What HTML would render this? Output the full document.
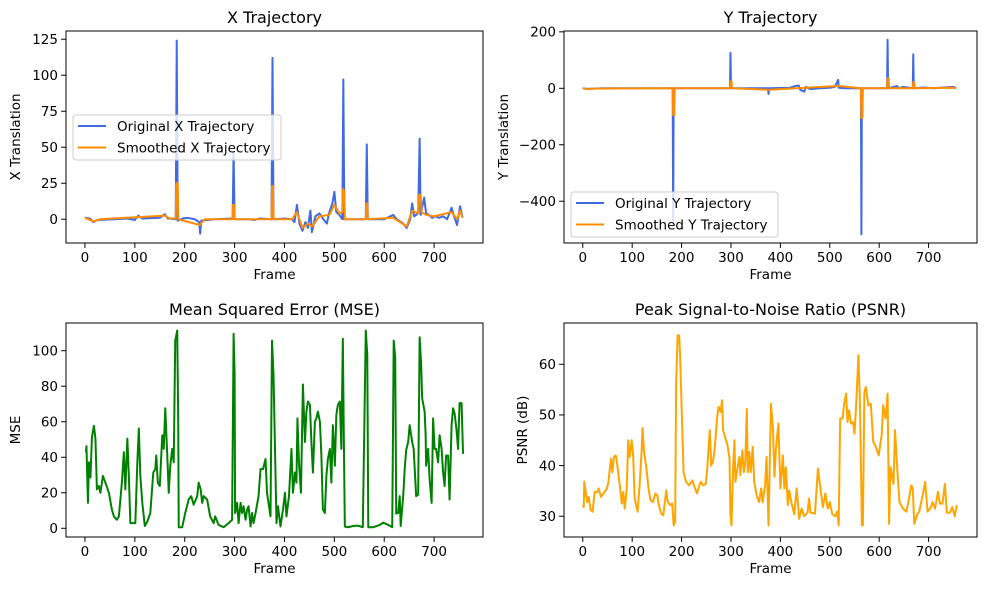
<!DOCTYPE html>
<html><head><meta charset="utf-8">
<style>
html,body{margin:0;padding:0;background:#fff;}
svg{display:block;font-family:"DejaVu Sans","Liberation Sans",sans-serif;}
</style></head>
<body>
<svg id="fig" width="990" height="590" viewBox="0 0 990 590" xmlns="http://www.w3.org/2000/svg">
<rect x="0" y="0" width="990" height="590" fill="#fff"/>
</svg>
<script>
// ---------- X trajectory ----------
const xOrigFrames = [0,10,17,25,60,85,100,107,115,150,160,166,182,184,186,196,205,220,229,231,233,260,296,298,300,330,340,350,374,376,378,400,415,420,425,430,436,442,447,452,455,462,470,478,485,490,496,500,504,510,516,518,520,540,563,565,567,600,618,625,638,645,652,656,660,668,671,673,680,684,690,696,702,710,718,726,735,740,746,752,757];
const xOrigVals = [1,0.5,-2,-0.5,0,0.5,-0.5,2.5,0.5,1,3.5,0.5,0,124,-1,0.5,1,0,-2,-10,-1,0,0.5,47,0,0,-0.5,0.5,0,112,0,0.5,0,-2,10,-3,-8,-2,-6,6,-9,2,4,0,-3,5,11,19,5,3,0,97,0,0,0,52,0,0,3,0,-3,-6,0,11,2,4,56,3,15,4,3,1,2,1,2,0,8,2,-4,9,1];
const xSmoothFrames = [0,17,30,107,160,170,182,183,186,187,230,240,296,297,299,300,374,375,377,378,415,425,436,447,455,470,490,500,510,516,517,520,521,563,564,566,567,618,645,656,668,670,673,675,684,700,735,746,752,757];
const xSmoothVals = [1,-1.5,0,1.5,2.5,0.5,0.5,25,25,0,-4,0,0,10,10,0,0,23,23,0,0,5,-6,-3,-5,2,3,10,4,5,21,19,0,0,11,11,0,1,-5,6,4,17,17,5,3,2,5,0,6,1];
const xTicks = [0,25,50,75,100,125];

// ---------- Y trajectory ----------
const yOrigFrames = [0,10,20,40,100,182,183,184,200,298,299,300,375,376,377,420,430,437,440,448,452,460,480,500,510,517,518,530,563,564,565,616,617,618,636,640,648,668,669,670,690,710,730,750,756];
const yOrigVals = [0,-2,-1,0,0,0,-470,0,0,0,125,0,0,-20,0,2,8,10,-5,-12,5,-3,0,2,5,30,2,0,0,-517,0,0,172,0,8,0,5,0,120,0,3,0,3,5,1];
const ySmoothFrames = [0,10,20,182,183,185,186,298,299,301,302,376,517,563,564,566,567,616,617,619,620,668,669,671,672,750,756];
const ySmoothVals = [0,-3,-1,0,-95,-95,0,0,25,25,0,-5,8,0,-105,-105,0,0,35,35,0,0,22,22,0,2,0];
const yTicks = [200,0,-200,-400];

// ---------- MSE ----------
const mseFrames = [2,3,6,8,11,14,18,21,24,28,31,36,41,48,54,58,64,68,74,78,81,85,88,91,97,101,105,108,111,115,120,125,131,137,141,143,146,150,155,158,161,165,168,171,175,178,181,185,187,188,195,201,208,213,218,225,228,232,235,238,245,251,258,261,268,278,288,295,298,300,301,305,308,312,315,318,322,325,328,332,335,338,342,348,352,357,362,365,372,375,378,
384,387,392,397,401,404,409,414,417,421,424,426,429,433,437,441,444,447,451,454,457,461,464,467,471,474,477,481,484,487,491,494,497,501,504,507,511,514,517,519,521,527,538,547,557,563,566,568,578,591,598,608,616,619,622,624,628,631,633,638,641,644,648,651,656,659,664,668,671,674,676,681,683,684,688,691,695,698,701,704,708,711,715,718,721,724,728,731,735,738,741,745,748,751,755,758];
const mseVals = [42.9,46.3,14.3,37.1,28.6,51.4,57.7,50.5,21.9,23.8,20,29.5,25.7,20,10.5,6.7,4.8,6.7,25.7,42.9,21.9,50.5,29.5,2.9,2.9,2.9,37.1,56.2,29.5,14.3,1.3,3.8,8.6,31.4,33.3,41,25.7,23.8,52.4,44.7,67.6,41,20,35.2,44.7,37.1,105.7,111.4,60,0.6,0.6,8.6,16.2,18.1,13.3,18.1,25.7,21.9,14.3,18.1,16.2,6.7,2.9,6.7,1.9,0.6,2.9,4.8,109.5,86.7,8.6,14.3,2.9,14.3,8.6,12.4,4.8,10.5,12.4,1,8.6,2.9,8.6,18.1,33.3,33.3,39,20,6.7,105.7,86.7,
2.9,12.4,1,10.5,20,6.7,18.1,44.7,20,31.4,25.7,61.9,37.1,20,81,48.6,65.7,71.4,69.5,48.6,31.4,60,61.9,65.7,60,41,10.5,8.6,29.5,39,44.7,25.7,58.1,35.2,63.8,69.5,71.4,44.7,106.7,50.5,1,0.6,1.3,1.5,0.6,111.4,97.6,0.6,0.6,1.9,3.2,1.9,0.6,105.7,96.2,8.3,8.6,18.1,1.3,18.1,33.3,44.1,48.6,58.1,48.6,44.7,18.1,19,107.6,92.4,73.3,65.7,52.4,35.2,44.7,27.6,14.3,61.9,44.7,44.7,37.1,52.4,44.7,31.4,23.8,41,41,16.2,58.1,67.6,64.8,55.2,44.7,70.5,70.5,41.9];
const mseTicks = [0,20,40,60,80,100];

// ---------- PSNR ----------
const psnrFrames = [0,2,3,9,12,16,20,24,29,32,37,42,49,52,57,60,63,67,70,75,79,82,85,89,92,95,99,102,105,111,115,119,121,124,129,133,137,142,147,151,154,159,163,169,172,177,181,184,187,189,192,195,197,201,204,209,215,222,225,231,235,239,244,249,252,257,260,264,267,272,275,279,282,284,289,293,297,299,301,304,307,309,313,317,319,323,326,329,332,334,337,340,344,347,352,357,361,364,369,372,376,
381,385,388,391,396,400,405,408,411,415,418,422,428,433,438,443,448,455,458,461,470,476,481,486,491,496,500,505,511,515,518,521,526,529,533,536,539,543,547,550,553,558,561,565,567,570,573,578,583,588,593,599,605,608,613,617,620,623,629,632,637,641,648,655,659,665,668,671,677,681,685,688,693,698,705,708,713,719,723,728,733,737,743,748,753,757];
const psnrVals = [32.2,31.8,36.8,32.8,33.8,31.2,30.9,34.8,34.7,35.5,33.8,34.5,35.5,36.8,41.4,38.7,41.7,42,40,36.1,32.5,34.8,31.5,35.5,45,41.7,45,42,33.5,30.9,36.1,42.7,47.4,42.7,39.4,35.5,33.2,32.8,34.5,34.1,32.2,30.5,30.2,35.1,32.8,32.2,32.5,28.2,28.9,56.5,65.7,65.7,61.8,48.6,38.7,36.8,36.1,37.1,36.1,34.5,35.8,36.8,36.1,36.4,39.4,47,40,41,43.3,49.6,51.6,50.6,52.9,47,45.3,44,41.4,30.2,28.2,38.7,45,36.8,39.4,41.7,38.1,43,38.7,40.7,51.2,38.7,42.7,38.7,43.7,36.8,34.1,32.8,35.5,32.8,36.1,41.7,28.2,
52.2,47.3,37.8,43.3,48.3,35.5,42,35.5,39.7,32.2,35.1,32.8,30.4,35.5,29.5,31.5,30,30.7,33.5,30.7,30.5,39.4,35.5,31.8,34.5,31.5,32.8,30.4,30,30.9,28.2,49.3,49.3,52.2,54.2,48.6,50.9,48.3,48.6,46.3,51.2,61.8,52.6,28.2,28.2,54.5,55.5,51.9,52.2,44.7,43.7,42,46,51.9,49.3,54.2,28.5,39.7,36.4,47,38.7,32.8,31.5,30.9,32.8,36.1,35.5,28.5,30.4,30.9,32.8,34.1,36.8,30.9,31.8,32.8,31.5,34.8,32.5,32.5,36.4,30.7,30.7,31.8,30,32.2];
const psnrTicks = [30,40,50,60];

const frameTicks = [0,100,200,300,400,500,600,700];

const NS = "http://www.w3.org/2000/svg";
const fig = document.getElementById('fig');
function mk(tag, attrs, parent){
  const e = document.createElementNS(NS, tag);
  for (const k in attrs) e.setAttribute(k, attrs[k]);
  (parent||fig).appendChild(e);
  return e;
}
function txt(s, attrs, parent){ const e = mk('text', attrs, parent); e.textContent = s; return e; }

function axes(id, box, xlim, ylim, yTickVals, title, xlab, ylab, ylabX){
  const g = mk('g', {});
  
  
  const sx = v => box.l + (v - xlim[0]) / (xlim[1] - xlim[0]) * (box.r - box.l);
  const sy = v => box.b - (v - ylim[0]) / (ylim[1] - ylim[0]) * (box.b - box.t);
  const cp = mk('clipPath', {id: 'clip-' + id}, g);
  mk('rect', {x: box.l, y: box.t, width: box.r - box.l, height: box.b - box.t}, cp);
  // x ticks
  frameTicks.forEach(v => {
    const x = sx(v);
    const tk = mk('line', {x1: x, x2: x, y1: box.b, y2: box.b + 4.9, stroke: '#000', 'stroke-width': 1}, g);
    
    
    const tl = txt(String(v), {x: x, y: box.b + 19, 'font-size': 13.5, 'text-anchor': 'middle', fill: '#000'}, g);
    
    
  });
  yTickVals.forEach(v => {
    const y = sy(v);
    const tk = mk('line', {x1: box.l - 4.9, x2: box.l, y1: y, y2: y, stroke: '#000', 'stroke-width': 1}, g);
    
    
    const tl = txt(String(v).replace('-', '\u2212'), {x: box.l - 8, y: y + 4.8, 'font-size': 13.5, 'text-anchor': 'end', fill: '#000'}, g);
    
    
  });
  const tt = txt(title, {x: (box.l + box.r) / 2, y: box.t - 8, 'font-size': 16, 'text-anchor': 'middle', fill: '#000'}, g);
  
  
  const xl = txt(xlab, {x: (box.l + box.r) / 2, y: box.b + 36, 'font-size': 13.5, 'text-anchor': 'middle', fill: '#000'}, g);
  
  
  const cy = (box.t + box.b) / 2;
  const yl = txt(ylab, {x: ylabX, y: cy, 'font-size': 13.5, 'text-anchor': 'middle', fill: '#000', transform: 'rotate(-90 ' + ylabX + ' ' + cy + ')'}, g);
  
  
  const plot = mk('g', {'clip-path': 'url(#clip-' + id + ')'}, g);
  return {g, plot, sx, sy, box};
}
function series(ax, fr, vals, color, name){
  let d = '';
  for (let i = 0; i < fr.length; i++) d += (i ? 'L' : 'M') + ax.sx(fr[i]).toFixed(2) + ',' + ax.sy(vals[i]).toFixed(2);
  const p = mk('path', {d: d, fill: 'none', stroke: color, 'stroke-width': 2, 'stroke-linejoin': 'round'}, ax.plot);
  
  
}
function frame(ax){
  const b = ax.box;
  const r = mk('rect', {x: b.l, y: b.t, width: b.r - b.l, height: b.b - b.t, fill: 'none', stroke: '#000', 'stroke-width': 1}, ax.g);
  
  
}
function legend(ax, x, y, w, h, items){
  const lg = mk('g', {}, ax.g);
  
  
  mk('rect', {x: x, y: y, width: w, height: h, rx: 3, fill: '#fff', 'fill-opacity': 0.8, stroke: '#ccc', 'stroke-width': 1}, lg);
  items.forEach((it, i) => {
    const ry = y + 11 + i * 21.5;
    const en = mk('g', {}, lg);
    
    
    mk('line', {x1: x + 5, x2: x + 33, y1: ry, y2: ry, stroke: it[1], 'stroke-width': 2}, en);
    txt(it[0], {x: x + 44, y: ry + 4.8, 'font-size': 13.5, fill: '#000'}, en);
  });
}

const XL = [-38, 798];
const a1 = axes('x-trajectory', {l: 66, r: 483, t: 31, b: 243}, XL, [-16.5, 130.7], xTicks, 'X Trajectory', 'Frame', 'X Translation', 20);
series(a1, xOrigFrames, xOrigVals, '#4169e1', 'original-x-line');
series(a1, xSmoothFrames, xSmoothVals, '#ff8c00', 'smoothed-x-line');
frame(a1);
legend(a1, 73, 115, 208, 45, [['Original X Trajectory', '#4169e1'], ['Smoothed X Trajectory', '#ff8c00']]);

const a2 = axes('y-trajectory', {l: 564, r: 977, t: 31, b: 243}, XL, [-548, 203], yTicks, 'Y Trajectory', 'Frame', 'Y Translation', 508);
series(a2, yOrigFrames, yOrigVals, '#4169e1', 'original-y-line');
series(a2, ySmoothFrames, ySmoothVals, '#ff8c00', 'smoothed-y-line');
frame(a2);
legend(a2, 571, 192, 207, 45, [['Original Y Trajectory', '#4169e1'], ['Smoothed Y Trajectory', '#ff8c00']]);

const a3 = axes('mse', {l: 66, r: 483, t: 323, b: 537}, XL, [-4.9, 115.6], mseTicks, 'Mean Squared Error (MSE)', 'Frame', 'MSE', 20);
series(a3, mseFrames, mseVals, '#008000', 'mse-line');
frame(a3);

const a4 = axes('psnr', {l: 564, r: 977, t: 323, b: 537}, XL, [25.9, 68.15], psnrTicks, 'Peak Signal-to-Noise Ratio (PSNR)', 'Frame', 'PSNR (dB)', 527);
series(a4, psnrFrames, psnrVals, '#ffa500', 'psnr-line');
frame(a4);
</script>
</body></html>
